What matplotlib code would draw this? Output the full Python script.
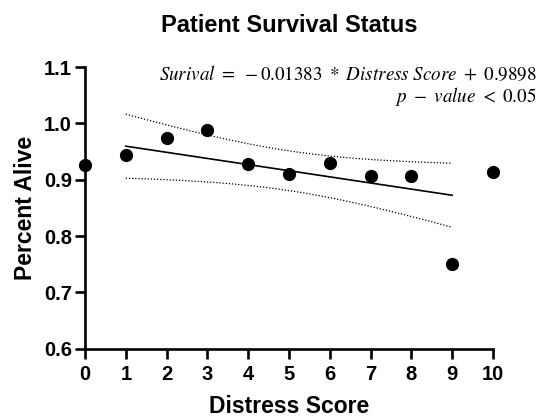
import numpy as np
import matplotlib
matplotlib.use("Agg")
import matplotlib.pyplot as plt

plt.rcParams['font.family'] = ['Liberation Sans', 'DejaVu Sans']
plt.rcParams['mathtext.fontset'] = 'stix'

# data
distress = [0, 1, 2, 3, 4, 5, 6, 7, 8, 9, 10]
alive = [0.926, 0.943, 0.974, 0.988, 0.928, 0.910, 0.929, 0.907, 0.906, 0.751, 0.913]
x_ticks = [0, 1, 2, 3, 4, 5, 6, 7, 8, 9, 10]
y_ticks = [0.6, 0.7, 0.8, 0.9, 1.0, 1.1]

# linear fit with 95% confidence band (df = 9)
x = np.array(distress, dtype=float)
y = np.array(alive)
slope, intercept = np.polyfit(x, y, 1)
resid = y - (slope * x + intercept)
s = np.sqrt(np.sum(resid ** 2) / (len(x) - 2))
t_crit = 2.262
xf = np.linspace(1, 9, 100)
yf = slope * xf + intercept
se = s * np.sqrt(1 / len(x) + (xf - x.mean()) ** 2 / np.sum((x - x.mean()) ** 2))

fig = plt.figure(figsize=(5.44, 4.18), dpi=100)
ax = fig.add_axes([0.1563, 0.1658, 0.7499, 0.6739])

ax.plot(xf, yf, color='black', lw=1.2)
ax.plot(xf, yf + t_crit * se, color='black', lw=0.9, ls=(0, (1, 1.5)))
ax.plot(xf, yf - t_crit * se, color='black', lw=0.9, ls=(0, (1, 1.5)))
ax.plot(distress, alive, 'o', color='black', ms=8.5, clip_on=False, zorder=5)

ax.set_xlim(0, 10)
ax.set_ylim(0.6, 1.1)
ax.set_xticks(x_ticks)
ax.set_yticks(y_ticks)
ax.set_yticklabels([f'{v:.1f}' for v in y_ticks])
for sp in ['top', 'right']:
    ax.spines[sp].set_visible(False)
for sp in ['left', 'bottom']:
    ax.spines[sp].set_linewidth(1.9)
ax.tick_params(width=1.9, length=7.5, labelsize=14.5)
ax.tick_params(axis='y', pad=2)
ax.tick_params(axis='x', pad=4)
for lab in ax.get_xticklabels() + ax.get_yticklabels():
    lab.set_fontweight('bold')

ax.set_xlabel('Distress Score', fontsize=16.5, fontweight='bold', labelpad=8)
ax.set_ylabel('Percent Alive', fontsize=16.5, fontweight='bold', labelpad=5)
ax.set_title('Patient Survival Status', fontsize=17, fontweight='bold', pad=25)

fig.text(0.987, 0.8086, r'$Surival\ =\ -0.01383\ *\ Distress\ Score\ +\ 0.9898$',
         ha='right', va='baseline', fontsize=13.7)
fig.text(0.987, 0.756, r'$p\ -\ value\ <\ 0.05$', ha='right', va='baseline', fontsize=13.7)

fig.savefig('out.png', dpi=100)
